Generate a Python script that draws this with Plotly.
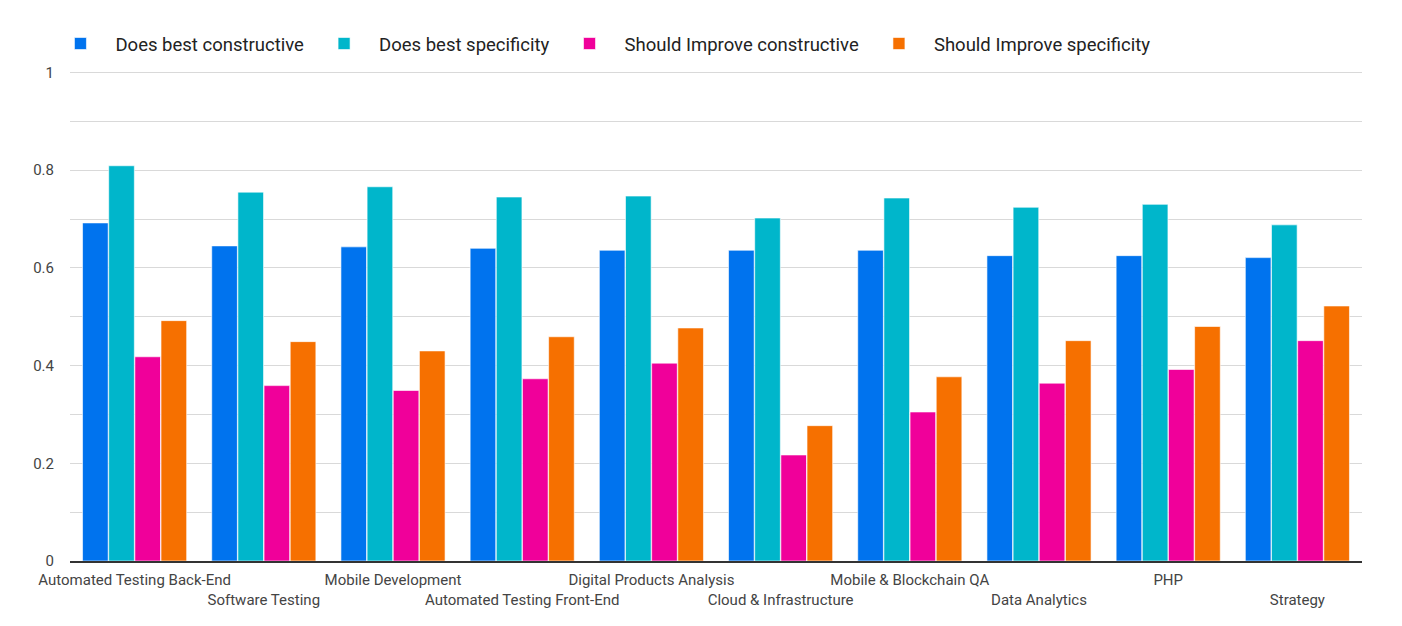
import plotly.graph_objects as go

categories = [
    "Automated Testing Back-End", "Software Testing", "Mobile Development",
    "Automated Testing Front-End", "Digital Products Analysis", "Cloud & Infrastructure",
    "Mobile & Blockchain QA", "Data Analytics", "PHP", "Strategy",
]
does_best_constructive = [0.692, 0.645, 0.643, 0.640, 0.636, 0.636, 0.636, 0.625, 0.625, 0.621]
does_best_specificity = [0.809, 0.755, 0.766, 0.745, 0.747, 0.702, 0.743, 0.724, 0.730, 0.688]
should_improve_constructive = [0.418, 0.359, 0.349, 0.373, 0.405, 0.217, 0.305, 0.364, 0.392, 0.451]
should_improve_specificity = [0.492, 0.449, 0.430, 0.459, 0.477, 0.277, 0.377, 0.451, 0.480, 0.522]

series_names = ["Does best constructive", "Does best specificity",
                "Should Improve constructive", "Should Improve specificity"]
series_values = [does_best_constructive, does_best_specificity,
                 should_improve_constructive, should_improve_specificity]
colors = ["#0073ee", "#00b6cb", "#f0009a", "#f67000"]

tick_text = [c if i % 2 == 0 else "<br>" + c for i, c in enumerate(categories)]

fig = go.Figure()
for name, vals, col in zip(series_names, series_values, colors):
    fig.add_trace(go.Bar(
        x=categories, y=vals, name=name,
        marker=dict(color=col, line=dict(color="rgba(255,255,255,0.6)", width=1)),
    ))

fig.update_layout(
    width=1402, height=626,
    barmode="group", bargap=0.19, bargroupgap=0.02,
    paper_bgcolor="white", plot_bgcolor="white",
    margin=dict(l=62, r=48, t=62, b=73),
    font=dict(family="Roboto", size=15, color="#444444"),
    legend=dict(orientation="h", x=-0.019, xanchor="left", y=1.053, yanchor="middle",
                font=dict(size=18.5, color="#222222"), itemwidth=60,
                traceorder="normal"),
    xaxis=dict(
        tickmode="array", tickvals=categories, ticktext=tick_text, tickangle=0,
        showline=True, linecolor="#333333", linewidth=2, showgrid=False,
        ticks="", tickfont=dict(size=15, color="#444444"), ticklabelstandoff=4,
    ),
    yaxis=dict(
        range=[0, 1.005], tickvals=[0, 0.2, 0.4, 0.6, 0.8, 1],
        ticktext=["0", "0.2", "0.4", "0.6", "0.8", "1"],
        showgrid=True, gridcolor="#d9d9d9", gridwidth=1,
        minor=dict(dtick=0.1, showgrid=True, gridcolor="#d9d9d9", gridwidth=1),
        zeroline=False, ticks="", ticklabelstandoff=15,
        tickfont=dict(size=15, color="#444444"),
    ),
)

fig.write_html("out.html")
